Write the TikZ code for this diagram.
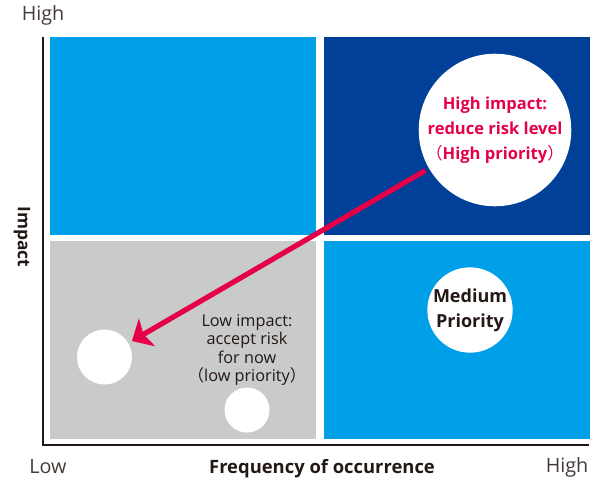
\documentclass[tikz,border=0pt]{standalone}
\usepackage{fontspec}
\setmainfont{Open Sans}
\newfontfamily\cjk{Noto Sans CJK JP}
\usetikzlibrary{arrows.meta, positioning}
\definecolor{skyblue}{RGB}{0,160,233}
\definecolor{deepblue}{RGB}{0,64,152}
\definecolor{lowgray}{RGB}{201,202,202}
\definecolor{riskred}{RGB}{230,0,72}
\definecolor{inkgray}{RGB}{35,24,21}
\tikzset{
    quad/.style      = {rectangle, inner sep=0pt, minimum width=199.5pt, minimum height=148.5pt},
    spot/.style      = {circle, fill=white, inner sep=0pt, text centered, align=center},
    axislabel/.style = {font=\fontsize{14.8}{17}\selectfont, text=inkgray!85},
    axistitle/.style = {font=\bfseries\fontsize{13.8}{16}\selectfont, text=inkgray},
    riskarrow/.style = {draw=riskred, line width=3.9pt, -{Stealth[length=13pt, width=24pt, inset=3pt]}},
}

\begin{document}
\begin{tikzpicture}[x=0.75pt, y=-0.75pt]
  \useasboundingbox (0,0) rectangle (603,479);
  % quadrants
  \node [quad, fill=skyblue, anchor=north west] (tl) at (50,37) {};
  \node [quad, fill=deepblue, right=5.25pt of tl] (tr) {};
  \node [quad, fill=lowgray, below=3.75pt of tl] (bl) {};
  \node [quad, fill=skyblue, below=3.75pt of tr] (br) {};
  % axes
  \coordinate (ytop) at (43,37);
  \coordinate (orig) at (43,445);
  \coordinate (xend) at (589,445);
  \draw [inkgray, line width=1.2pt] (ytop) -- (orig) -- (xend);
  \node [axislabel] (yhigh) at (43,15) {High};
  \node [axislabel] (xlow) at (48,467) {Low};
  \node [axislabel] (xhigh) at (567,467) {High};
  \node [axistitle] (xtitle) at (322,469) {Frequency of occurrence};
  \node [axistitle, font=\bfseries\fontsize{13}{16}\selectfont, rotate=-90] (ytitle) at (22,237) {Impact};
  % risks
  \node [spot, minimum size=103.5pt, text=riskred, font=\bfseries\fontsize{12.4}{18.75}\selectfont] (hi) at (495,130) {High impact:\\reduce risk level\\{\cjk\mdseries （}High priority{\cjk\mdseries ）}};
  \node [spot, minimum size=61.5pt, text=inkgray, font=\bfseries\fontsize{13.5}{18.75}\selectfont] (mid) at (470,310) {Medium\\Priority};
  \node [spot, minimum size=41.25pt] (lo) at (104.5,357) {};
  \node [spot, minimum size=33.75pt] (lo2) at (247,410) {};
  \node [text=inkgray, align=center, font=\fontsize{12.2}{13.8}\selectfont] (lowtxt) at (247,350) {Low impact:\\accept risk\\for now\\{\cjk （}low priority{\cjk ）}};
  \draw [riskarrow, shorten <=3pt, shorten >=3pt] (hi) -- (lo);
\end{tikzpicture}
\end{document}
